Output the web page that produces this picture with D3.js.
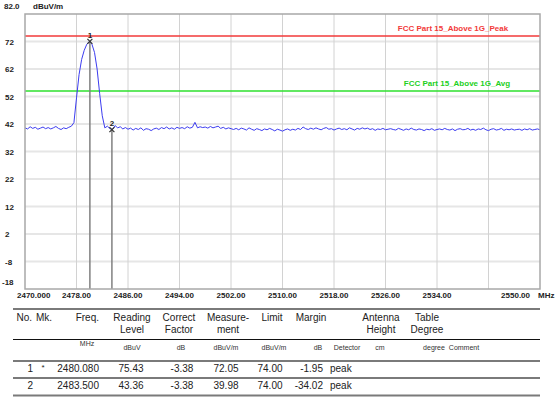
<!DOCTYPE html>
<html><head><meta charset="utf-8">
<script src="https://cdn.jsdelivr.net/npm/d3@7"></script>
<style>body{margin:0;background:#fff} svg{display:block} text{font-family:"Liberation Sans",Arial,sans-serif}</style>
</head><body><svg id="c" width="556" height="397"></svg>
<script>
// ---- data ----
const yTicks = [72, 62, 52, 42, 32, 22, 12, 2, -8, -18];
const yTop = 82.0, yBottom = -18;
const xTicks = [2470, 2478, 2486, 2494, 2502, 2510, 2518, 2526, 2534, 2542, 2550];
const xTickLabels = ["2470.000", "2478.00", "2486.00", "2494.00", "2502.00", "2510.00", "2518.00", "2526.00", "2534.00", "", "2550.00"];
const xUnit = "MHz", yUnit = "dBuV/m";
const traceStart = 2470, traceStep = 0.4;
const traceLevels = [
  40.6, 40.2, 41.0, 40.4, 40.8, 40.1, 40.5, 40.9, 40.3, 40.7, 40.2, 40.6, 41.1, 40.4, 40.0, 40.6, 40.3, 40.8, 41.2,
  42.5, 51.5, 60.0, 65.5, 68.8, 71.0, 72.05, 71.0, 68.0, 62.0, 53.0, 45.0, 40.6,
  41.2, 40.3, 40.0, 41.4, 40.6, 41.0, 40.2, 40.7, 40.1, 40.5,
  39.8, 40.4, 40.0, 40.6, 39.7, 40.3, 40.1, 39.6, 40.2, 40.5,
  40.0, 40.7, 40.3, 40.9, 40.2, 40.6, 40.1, 40.8, 40.4, 40.7,
  40.3, 41.0, 40.5, 40.8, 42.6, 40.6, 41.0, 40.7, 40.9, 40.5,
  41.1, 40.6, 40.9, 41.2, 40.4, 40.8, 40.2, 40.6, 40.3, 40.0,
  40.4, 39.9, 40.5, 40.2, 39.8, 40.6, 40.1, 39.7, 40.3, 40.0,
  39.6, 40.2, 39.9, 40.4, 40.0, 39.5, 40.1, 39.8, 39.4, 39.9,
  40.2, 39.7, 40.1, 39.8, 40.4, 40.0, 40.9, 40.3, 40.0, 40.5,
  40.1, 40.6, 40.2, 39.9, 40.4, 40.7, 40.1, 40.3, 39.8, 40.2,
  40.5, 40.0, 40.3, 39.9, 40.6, 40.2, 39.8, 40.4, 40.1, 40.6,
  40.2, 40.5, 40.0, 40.3, 39.7, 40.2, 40.0, 40.4, 39.9, 40.1,
  40.3, 40.0, 39.8, 40.4, 40.1, 39.7, 40.2, 39.9, 40.5, 40.0,
  39.8, 40.2, 40.0, 39.6, 40.1, 39.9, 40.3, 39.7, 40.0, 40.2,
  39.9, 40.4, 40.0, 39.8, 40.2, 39.6, 40.1, 40.3, 39.9, 40.0,
  40.4, 39.8, 40.1, 39.7, 40.2, 40.0, 40.5, 39.9, 39.6, 40.1,
  40.3, 39.8, 40.0, 40.4, 39.7, 40.1, 39.9, 40.2, 39.8, 40.0,
  40.1, 39.7, 40.2, 39.9, 40.3, 39.8, 40.0, 40.2, 39.9
];
const limitNames = ["FCC Part 15_Above 1G_Peak", "FCC Part 15_Above 1G_Avg"];
const limitValues = [74, 54];
const limitColors = ["#f23a3a", "#2ee02e"];
const markerNo = ["1", "2"];
const markerFreq = [2480.080, 2483.500];
const markerLevel = [72.05, 39.98];

const tblHeader = [["No."], ["Mk."], ["Freq."], ["Reading", "Level"], ["Correct", "Factor"], ["Measure-", "ment"], ["Limit"], ["Margin"], [], ["Antenna", "Height"], ["Table", "Degree"], []];
const tblUnits = ["", "", "MHz", "dBuV", "dB", "dBuV/m", "dBuV/m", "dB", "Detector", "cm", "degree", "Comment"];
const rowNo = ["1", "2"];
const rowMk = ["*", ""];
const rowFreq = ["2480.080", "2483.500"];
const rowReading = ["75.43", "43.36"];
const rowCorrect = ["-3.38", "-3.38"];
const rowMeasure = ["72.05", "39.98"];
const rowLimit = ["74.00", "74.00"];
const rowMargin = ["-1.95", "-34.02"];
const rowDetector = ["peak", "peak"];

// ---- chart ----
const svg = d3.select("#c");
svg.append("rect").attr("width", 556).attr("height", 397).attr("fill", "#fff");
const L = 25, R = 540, T = 14, B = 289;
const x = d3.scaleLinear().domain([xTicks[0], xTicks[xTicks.length - 1]]).range([L, R]);
const y = d3.scaleLinear().domain([yBottom, yTop]).range([B, T]);
const axisFont = "bold 8px 'Liberation Sans', Arial, sans-serif";

// grid
svg.append("g").selectAll("line").data(yTicks.filter(v => v > yBottom)).join("line")
  .attr("x1", L).attr("x2", R).attr("y1", d => y(d)).attr("y2", d => y(d))
  .attr("stroke", "#e6e6e6").attr("stroke-width", 2);
svg.append("g").selectAll("line").data(xTicks.slice(1, -1)).join("line")
  .attr("x1", d => x(d)).attr("x2", d => x(d)).attr("y1", T).attr("y2", B)
  .attr("stroke", "#d2d2d2").attr("stroke-width", 1);

// limit lines
limitValues.forEach((v, i) => {
  svg.append("line").attr("x1", L).attr("x2", R).attr("y1", y(v)).attr("y2", y(v))
    .attr("stroke", limitColors[i]).attr("stroke-width", 1.6);
  svg.append("text").attr("x", i === 0 ? 453 : 457).attr("y", y(v) - 5.5)
    .attr("text-anchor", "middle").attr("fill", i === 1 ? "#22d022" : limitColors[i])
    .style("font", axisFont).text(limitNames[i]);
});

// trace
const tracePts = traceLevels.map((v, i) => [traceStart + i * traceStep, v]);
svg.append("path").datum(tracePts)
  .attr("d", d3.line().x(d => x(d[0])).y(d => y(d[1])))
  .attr("fill", "none").attr("stroke", "#3c3cf0").attr("stroke-width", 1);

// markers
markerFreq.forEach((f, i) => {
  const mx = x(f), my = y(markerLevel[i]);
  svg.append("line").attr("x1", mx).attr("x2", mx).attr("y1", my).attr("y2", B)
    .attr("stroke", "#808080").attr("stroke-width", 1.5);
  svg.append("path").attr("d", `M${mx - 2.5},${my - 2.5}L${mx + 2.5},${my + 2.5}M${mx - 2.5},${my + 2.5}L${mx + 2.5},${my - 2.5}`)
    .attr("stroke", "#333").attr("stroke-width", 1.2);
  svg.append("text").attr("x", mx).attr("y", my - 3.5).attr("text-anchor", "middle")
    .style("font", axisFont).attr("fill", "#222").text(markerNo[i]);
});

// frame
svg.append("rect").attr("x", L).attr("y", T).attr("width", R - L).attr("height", B - T)
  .attr("fill", "none").attr("stroke", "#a8a8a8").attr("stroke-width", 1.5);

// y labels
svg.append("text").attr("x", 4).attr("y", 9).style("font", axisFont).attr("fill", "#222").text(yTop.toFixed(1));
svg.append("text").attr("x", 33).attr("y", 9).style("font", axisFont).attr("fill", "#222").text(yUnit);
svg.append("g").selectAll("text").data(yTicks).join("text")
  .attr("x", d => d === yBottom ? 2 : 5).attr("y", d => d === yBottom ? y(d) - 4 : y(d) + 3)
  .style("font", axisFont).attr("fill", "#222").text(d => d);

// x labels
svg.append("g").selectAll("text").data(xTicks).join("text")
  .attr("x", (d, i) => i === 0 ? 17 : (i === xTicks.length - 1 ? 530 : x(d)))
  .attr("y", 298)
  .attr("text-anchor", (d, i) => i === 0 ? "start" : (i === xTicks.length - 1 ? "end" : "middle"))
  .style("font", axisFont).attr("fill", "#222").text((d, i) => xTickLabels[i]);
svg.append("text").attr("x", 538).attr("y", 298).style("font", axisFont).attr("fill", "#222").text(xUnit);

// ---- table ----
const tf = "10px 'Liberation Sans', Arial, sans-serif";
const uf = "7px 'Liberation Sans', Arial, sans-serif";
const hLine = (yy, col, w) => svg.append("line").attr("x1", 13).attr("x2", 540).attr("y1", yy).attr("y2", yy).attr("stroke", col).attr("stroke-width", w);
hLine(309, "#7a7a7a", 2);
hLine(339.5, "#111", 1);
hLine(361, "#7a7a7a", 2);
hLine(378, "#7a7a7a", 2);
hLine(395.5, "#7a7a7a", 2);

// header columns: x, anchor
const hdrPos = [[32, "end"], [36, "start"], [99, "end"], [132, "middle"], [179, "middle"], [228, "middle"], [272, "middle"], [311, "middle"], [0, "start"], [381, "middle"], [427, "middle"], [0, "start"]];
tblHeader.forEach((lines, i) => {
  lines.forEach((s, j) => {
    svg.append("text").attr("x", hdrPos[i][0]).attr("y", 321 + j * 11.5)
      .attr("text-anchor", hdrPos[i][1]).style("font", tf).attr("fill", "#222").text(s);
  });
});
const unitX = [0, 0, 87, 132, 181, 226, 274, 318, 347, 380, 434, 464];
tblUnits.forEach((s, i) => {
  if (!s) return;
  svg.append("text").attr("x", unitX[i]).attr("y", s === "MHz" ? 346 : 350)
    .attr("text-anchor", "middle").style("font", uf).attr("fill", "#333").text(s);
});

const cols = [
  [rowNo, 33, "end"], [rowFreq, 99, "end"], [rowReading, 131, "middle"], [rowCorrect, 182, "middle"],
  [rowMeasure, 226, "middle"], [rowLimit, 270, "middle"], [rowMargin, 323, "end"], [rowDetector, 330, "start"]
];
[0, 1].forEach(r => {
  const by = 372 + r * 17;
  cols.forEach(([arr, cx, anc]) => {
    svg.append("text").attr("x", cx).attr("y", by).attr("text-anchor", anc)
      .style("font", tf).attr("fill", "#222").text(arr[r]);
  });
  if (rowMk[r]) svg.append("text").attr("x", 43).attr("y", by - 2).attr("text-anchor", "middle")
    .style("font", "8px 'Liberation Sans', Arial, sans-serif").attr("fill", "#222").text(rowMk[r]);
});
</script></body></html>
